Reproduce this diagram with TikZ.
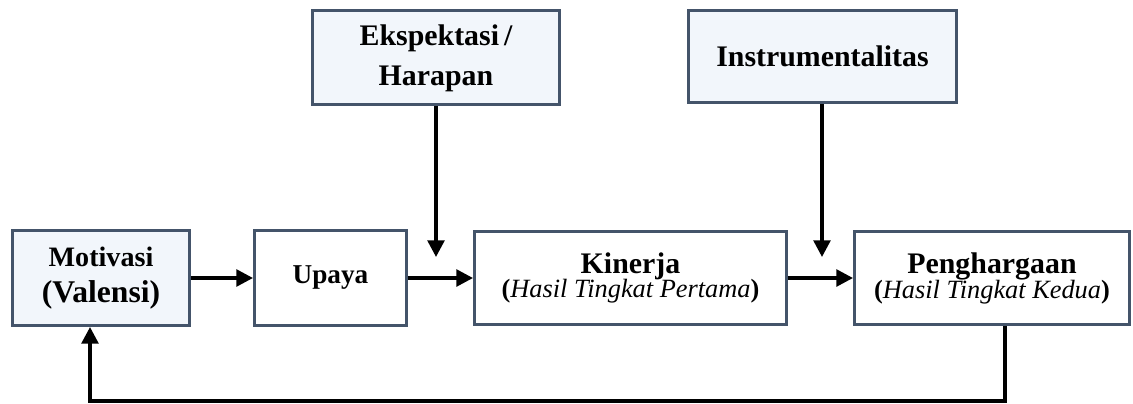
\documentclass[tikz,border=0pt]{standalone}
\usepackage{fontspec}
\setmainfont{Liberation Serif}
\usetikzlibrary{arrows.meta}

\definecolor{boxline}{RGB}{68,84,106}
\definecolor{boxfill}{RGB}{242,246,251}

\tikzset{
  blockbox/.style={draw=boxline, line width=1.7pt, fill=white, inner sep=0pt,
    align=center, font=\bfseries},
  shadedbox/.style={blockbox, fill=boxfill},
  flow/.style={line width=2pt, -{Triangle[length=9.5pt,width=9.5pt]}},
}

\newcommand{\fs}[2]{\fontsize{#1}{#2}\selectfont}

\begin{document}
\begin{tikzpicture}[x=0.02cm, y=-0.02cm]
  \useasboundingbox (0,0) rectangle (1133,403);

  % main row
  \node[shadedbox, minimum width=3.54cm, minimum height=1.90cm] (mot) at (101,278)
    {\fs{16}{18}Motivasi\\[7pt]\fs{18}{20}(Valensi)\rule[-4pt]{0pt}{1pt}};
  \node[blockbox, minimum width=3.04cm, minimum height=1.90cm] (upa) at (330.5,278)
    {\fs{15.5}{17}Upaya};
  \node[blockbox, minimum width=6.24cm, minimum height=1.86cm] (kin) at (630.5,278)
    {\fs{17}{19}Kinerja\\[-1pt]\fs{15}{17}(\textit{\mdseries Hasil Tingkat Pertama})};
  \node[blockbox, minimum width=5.50cm, minimum height=1.86cm] (pg) at (992,278)
    {\fs{17}{19}Penghargaan\\[-1pt]\fs{15}{17}(\textit{\mdseries Hasil Tingkat Kedua})};

  % upper row: two separate lines stacked in a tabular
  \node[shadedbox, minimum width=4.94cm, minimum height=1.88cm] (eks) at (436,57.5)
    {\fs{17}{23}\begin{tabular}{@{}c@{}}Ekspektasi\,/\\Harapan\end{tabular}};
  \node[shadedbox, minimum width=5.36cm, minimum height=1.84cm] (ins) at (822.5,56.5)
    {\fs{17}{19}Instrumentalitas};

  % free ends of the incoming arrows and the feedback loop
  \coordinate (eksEnd) at (436,257);
  \coordinate (insEnd) at (822,257);
  \coordinate (fbR) at (1005,401);
  \coordinate (fbL) at (90,401);

  \draw[flow] (mot) -- (upa);
  \draw[flow] (upa) -- (kin);
  \draw[flow] (kin) -- (pg);
  \draw[flow] (eks.south) -- (eksEnd);
  \draw[flow] (ins.south -| insEnd) -- (insEnd);
  \draw[flow] (pg.south -| fbR) -- (fbR) -- (fbL) -- (fbL |- mot.south);
\end{tikzpicture}
\end{document}
